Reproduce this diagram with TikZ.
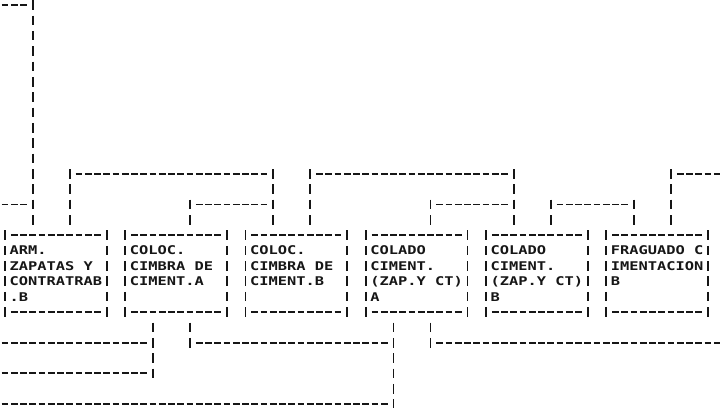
\documentclass[tikz,border=0pt]{standalone}
\usepackage{fontspec}
\newfontfamily\dotfont[FakeStretch=1.2803]{DejaVu Sans Mono}
\usetikzlibrary{calc}
\definecolor{ink}{RGB}{22,22,22}
\tikzset{
  hd/.style={draw=ink, line width=1.9pt, dash pattern=on 6.9pt off 2.35pt},
  vb/.style={draw=ink, line width=1.9pt, dash pattern=on 9.6pt off 5.75pt},
  intop/.style={vb, shorten >=7pt},
  outbot/.style={vb, shorten <=10.55pt},
  boxnode/.style={rectangle, inner sep=0pt, outer sep=0pt, minimum width=101.75pt, minimum height=76.75pt},
  txt/.style={anchor=west, inner sep=0pt, outer sep=0pt, text height=8.75pt, text depth=0pt, text=ink,
    font=\dotfont\bfseries\fontsize{12}{14}\selectfont},
}
% horizontal run of dash characters: row, first col, last col
\newcommand\hrun[3]{\draw[hd] (#2-0.373,#1) -- (#3+0.5,#1);}
\newcommand\txtline[3]{\if\relax\detokenize{#3}\relax\else
  \node[txt] (#1-#2) at ($(#1.north west)+(0.5,#2)$) {#3};\fi}
% box: name, left col, four text lines
\newcommand\dotbox[6]{%
  \node[boxnode] (#1) at (#2+5.5,17.5) {};
  \draw[vb] ($(#1.north west)+(0,-0.3127)$) -- ($(#1.south west)+(0,0.3127)$);
  \draw[vb] ($(#1.north east)+(0,-0.3127)$) -- ($(#1.south east)+(0,0.3127)$);
  \draw[hd] ($(#1.north west)+(0.627,0)$) -- ($(#1.north east)+(-0.5,0)$);
  \draw[hd] ($(#1.south west)+(0.627,0)$) -- ($(#1.south east)+(-0.5,0)$);
  \txtline{#1}{1}{#3}\txtline{#1}{2}{#4}\txtline{#1}{3}{#5}\txtline{#1}{4}{#6}%
}
\begin{document}
\begin{tikzpicture}[x=9.25pt, y=-15.35pt]
\useasboundingbox (-0.5405,-0.3257) rectangle (77.2973,26.254);

% boxes
\dotbox{b1}{0}{ARM.}{ZAPATAS Y}{CONTRATRAB}{.B}
\dotbox{b2}{13}{COLOC.}{CIMBRA DE}{CIMENT.A}{}
\dotbox{b3}{26}{COLOC.}{CIMBRA DE}{CIMENT.B}{}
\dotbox{b4}{39}{COLADO}{CIMENT.}{(ZAP.Y CT)}{A}
\dotbox{b5}{52}{COLADO}{CIMENT.}{(ZAP.Y CT)}{B}
\dotbox{b6}{65}{FRAGUADO C}{IMENTACION}{B}{}

% free ends
\coordinate (fa) at (3,-0.3127);
\coordinate (fb) at (7,10.6873);
\coordinate (fc) at (29,10.6873);
\coordinate (fd) at (20,12.6873);
\coordinate (fe) at (33,10.6873);
\coordinate (ff) at (55,10.6873);
\coordinate (fg) at (46,12.6873);
\coordinate (fh) at (59,12.6873);
\coordinate (fi) at (68,12.6873);
\coordinate (fj) at (72,10.6873);

% connectors above the boxes
\hrun{0}{0}{2}
\hrun{13}{0}{2}
\draw[intop] (fa) -- ($(b1.north west)+(3,0)$);
\draw[intop] (fb) -- ($(b1.north west)+(7,0)$);
\hrun{11}{8}{28}
\draw[intop] (fc) -- ($(b3.north west)+(3,0)$);
\draw[intop] (fd) -- ($(b2.north west)+(7,0)$);
\hrun{13}{21}{28}
\draw[intop] (fe) -- ($(b3.north west)+(7,0)$);
\hrun{11}{34}{54}
\draw[intop] (ff) -- ($(b5.north west)+(3,0)$);
\draw[intop] (fg) -- ($(b4.north west)+(7,0)$);
\hrun{13}{47}{54}
\draw[intop] (fh) -- ($(b5.north west)+(7,0)$);
\hrun{13}{60}{67}
\draw[intop] (fi) -- ($(b6.north west)+(3,0)$);
\draw[intop] (fj) -- ($(b6.north west)+(7,0)$);
\draw[hd] (72.627,11) -- (77.29,11);

% connectors below the boxes
\coordinate (ga) at (16,24.3127);
\coordinate (gb) at (20,22.3127);
\coordinate (gc) at (42,26.3127);
\coordinate (gd) at (46,22.3127);
\draw[outbot] ($(b2.south west)+(3,0)$) -- (ga);
\hrun{22}{0}{15}
\hrun{24}{0}{15}
\draw[outbot] ($(b2.south west)+(7,0)$) -- (gb);
\hrun{22}{21}{41}
\draw[outbot] ($(b4.south west)+(3,0)$) -- (gc);
\hrun{26}{0}{41}
\draw[outbot] ($(b4.south west)+(7,0)$) -- (gd);
\draw[hd] (46.627,22) -- (77.29,22);
\end{tikzpicture}
\end{document}
